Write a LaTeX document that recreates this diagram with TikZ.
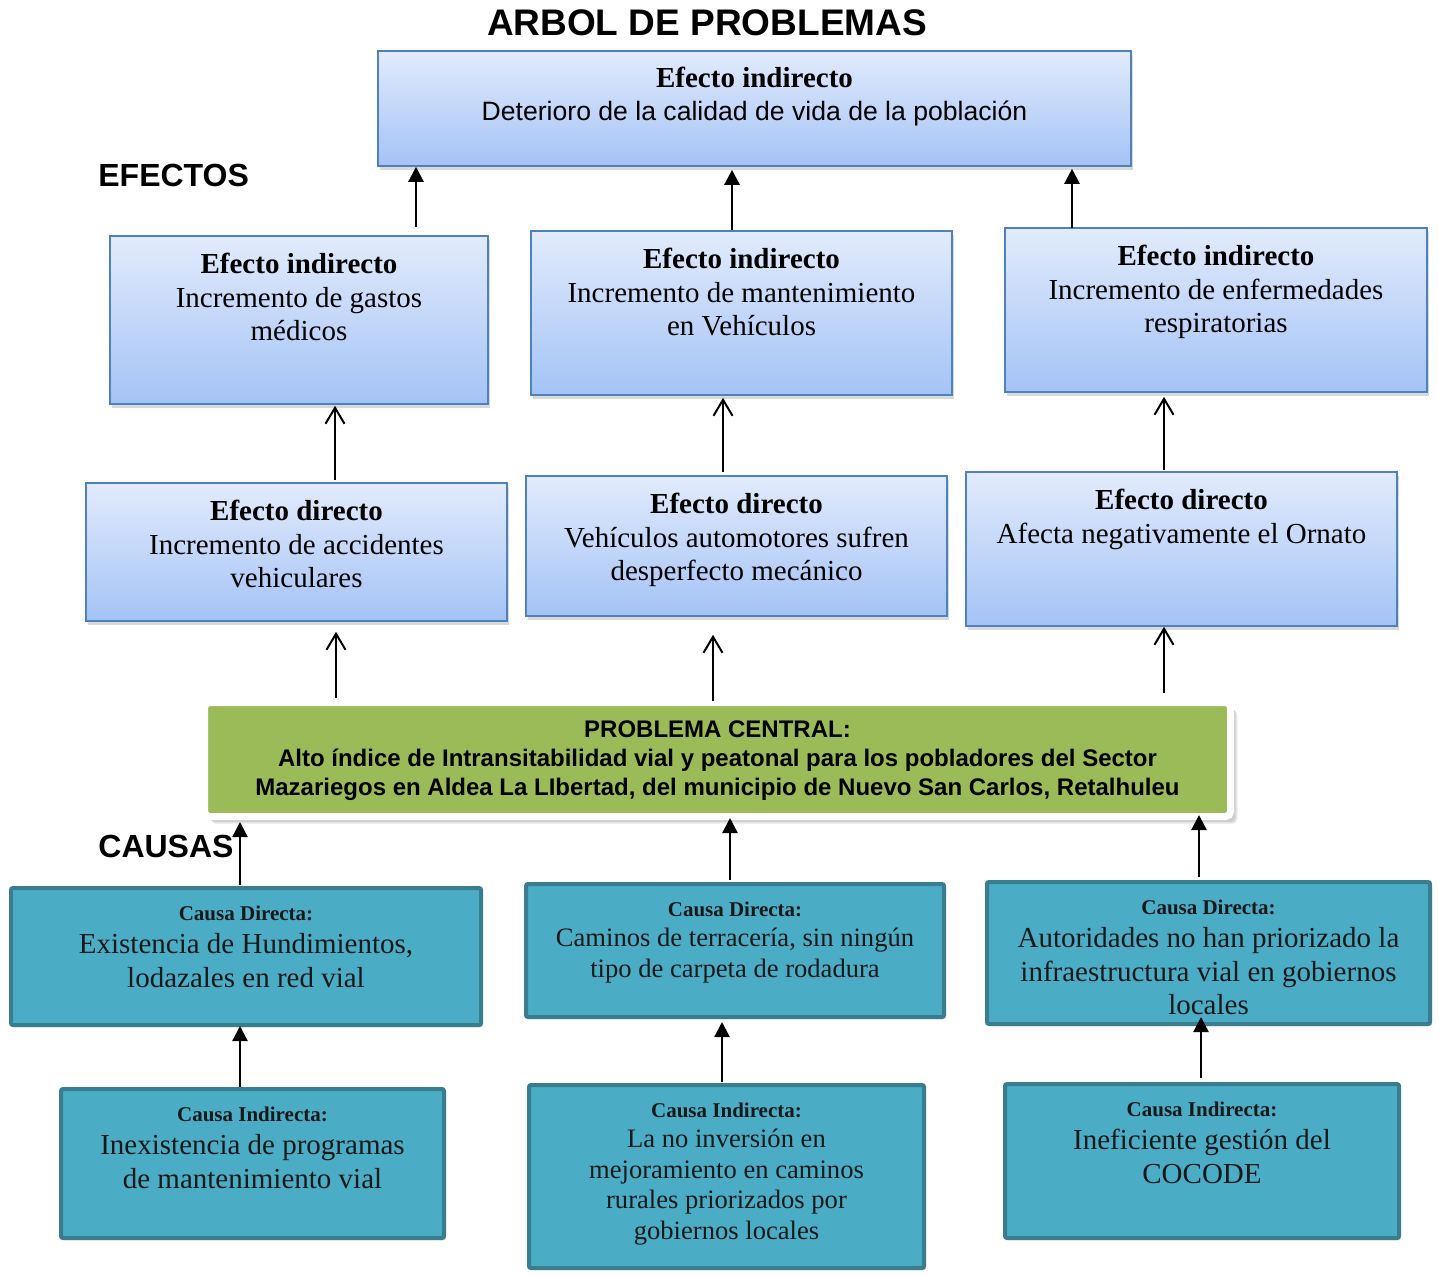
\documentclass[tikz,border=0pt]{standalone}
\usepackage{fontspec}
\setmainfont{Liberation Serif}
\setsansfont{Liberation Sans}
\usepackage{xcolor}
\usepackage{tikz}
\usetikzlibrary{shapes,arrows,positioning,calc,shadows,arrows.meta}

\definecolor{efborde}{RGB}{79,129,189}
\definecolor{eftop}{RGB}{226,235,252}
\definecolor{efbot}{RGB}{164,195,246}
\definecolor{cafill}{RGB}{75,172,198}
\definecolor{caborde}{RGB}{57,125,143}
\definecolor{probverde}{RGB}{155,187,89}

\tikzset{
  efbox/.style={draw=efborde, line width=0.9pt, top color=eftop, bottom color=efbot,
    anchor=north, inner sep=0pt, align=flush center, text height=19pt,
    drop shadow={opacity=0.3, shadow xshift=1.2pt, shadow yshift=-1.8pt},
    font=\fontsize{14.5}{16.75}\selectfont},
  cabox/.style={draw=caborde, line width=2pt, fill=cafill, rounded corners=1pt,
    anchor=north, inner sep=0pt, align=flush center, text height=16pt, text=black!90,
    drop shadow={opacity=0.2, shadow xshift=1pt, shadow yshift=-1.2pt},
    font=\fontsize{14.5}{16.75}\selectfont},
  cachico/.style={font=\fontsize{13.3}{15.3}\selectfont},
  probbox/.style={draw=white, line width=3.5pt, fill=probverde, rounded corners=2.5pt,
    anchor=north, inner sep=0pt, align=flush center,
    general shadow={fill=black!40, opacity=0.25, shadow xshift=3.4pt, shadow yshift=-3.6pt},
    general shadow={fill=black!40, opacity=0.3, shadow xshift=2.6pt, shadow yshift=-2.8pt},
    font=\sffamily\bfseries\fontsize{12}{14.5}\selectfont},
  rotulo/.style={anchor=west, inner sep=0pt, font=\sffamily\bfseries\fontsize{16}{19}\selectfont},
  openarr/.style={-{Straight Barb[length=8pt,width=9.5pt]}, line width=1pt},
  fillarr/.style={-{Triangle[length=7.5pt,width=7.5pt]}, line width=1.2pt},
}
\newcommand{\cabeza}[1]{{\fontsize{10.5}{12}\selectfont\bfseries #1}}

\begin{document}
\begin{tikzpicture}[x=0.5pt, y=-0.5pt]
    \useasboundingbox (0,0) rectangle (1439,1275);

    % Titles
    \node[font=\sffamily\bfseries\fontsize{18.5}{22}\selectfont] (titulo) at (707,23) {ARBOL DE PROBLEMAS};
    \node[rotulo] (efectos) at (98,175) {EFECTOS};
    \node[rotulo] (causas) at (98,846) {CAUSAS};

    % Top effect
    \node[efbox, text width=376.5pt, text height=18.5pt, text depth=39pt,
      font=\fontsize{14.5}{16.25}\selectfont] (top) at (754.5,50)
      {\textbf{Efecto indirecto}\\{\sffamily\fontsize{13.3}{16}\selectfont Deterioro de la calidad de vida de la población}};

    % Indirect effects
    \node[efbox, text width=189pt, text depth=65pt] (ei1) at (299,235)
      {\textbf{Efecto indirecto}\\Incremento de gastos\\médicos};
    \node[efbox, text width=210.5pt, text depth=63pt] (ei2) at (741.5,230)
      {\textbf{Efecto indirecto}\\Incremento de mantenimiento\\en Vehículos};
    \node[efbox, text width=211pt, text depth=63pt] (ei3) at (1216,227)
      {\textbf{Efecto indirecto}\\Incremento de enfermedades\\respiratorias};

    % Direct effects
    \node[efbox, text width=210.5pt, text depth=50pt] (de1) at (296.5,482)
      {\textbf{Efecto directo}\\Incremento de accidentes\\vehiculares};
    \node[efbox, text width=210.5pt, text depth=51pt] (de2) at (736.5,475)
      {\textbf{Efecto directo}\\Vehículos automotores sufren\\desperfecto mecánico};
    \node[efbox, text width=215.5pt, text depth=58pt] (de3) at (1181.5,471)
      {\textbf{Efecto directo}\\Afecta negativamente el Ornato};

    % Central problem
    \node[probbox, text width=513pt, text height=17.25pt, text depth=39.75pt] (cp) at (717.5,699)
      {PROBLEMA CENTRAL:\\Alto índice de Intransitabilidad vial y peatonal para los pobladores del Sector\\Mazariegos en Aldea La LIbertad, del municipio de Nuevo San Carlos, Retalhuleu};

    % Direct causes
    \node[cabox, text width=235pt, text depth=52.5pt] (cd1) at (246,886)
      {\cabeza{Causa Directa:}\\Existencia de Hundimientos,\\lodazales en red vial};
    \node[cabox, cachico, text width=209pt, text depth=50.5pt] (cd2) at (735,882)
      {\cabeza{Causa Directa:}\\Caminos de terracería, sin ningún\\tipo de carpeta de rodadura};
    \node[cabox, text width=221.5pt, text depth=55pt] (cd3) at (1208.5,880)
      {\cabeza{Causa Directa:}\\Autoridades no han priorizado la\\infraestructura vial en gobiernos\\locales};

    % Indirect causes
    \node[cabox, text width=191.5pt, text depth=58.5pt] (ci1) at (252.5,1087)
      {\cabeza{Causa Indirecta:}\\Inexistencia de programas\\de mantenimiento vial};
    \node[cabox, cachico, text width=197.5pt, text depth=75.5pt] (ci2) at (726.5,1083)
      {\cabeza{Causa Indirecta:}\\La no inversión en\\mejoramiento en caminos\\rurales priorizados por\\gobiernos locales};
    \node[cabox, text width=197pt, text depth=61pt] (ci3) at (1202,1082)
      {\cabeza{Causa Indirecta:}\\Ineficiente gestión del\\COCODE};

    % Arrows effects
    \draw[fillarr] ($(ei1.north)+(117,-8)$) -- ($(top.south)+(-338.5,0)$);
    \draw[fillarr] ($(ei2.north)+(-9.5,0)$) -- ($(top.south)+(-22.5,3)$);
    \draw[fillarr] ($(ei3.north)+(-144,1)$) -- ($(top.south)+(317.5,2)$);
    \draw[openarr] ($(de1.north)+(38.5,-2)$) -- ($(ei1.south)+(36,1)$);
    \draw[openarr] ($(de2.north)+(-13.5,-3)$) -- ($(ei2.south)+(-18.5,2)$);
    \draw[openarr] ($(de3.north)+(-17.5,-1)$) -- ($(ei3.south)+(-52,4)$);
    \draw[openarr] ($(cp.north)+(-381.5,-1)$) -- ($(de1.south)+(39.5,10)$);
    \draw[openarr] ($(cp.north)+(-4.5,2)$) -- ($(de2.south)+(-23.5,18)$);
    \draw[openarr] ($(cp.north)+(446.5,-6)$) -- ($(de3.south)+(-17.5,0)$);

    % Arrows causes
    \draw[fillarr] ($(cd1.north)+(-6,-1)$) -- ($(cp.south)+(-477.5,2)$);
    \draw[fillarr] ($(cd2.north)+(-5,-2)$) -- ($(cp.south)+(12.5,-2)$);
    \draw[fillarr] ($(cd3.north)+(-9.5,-3)$) -- ($(cp.south)+(481.5,-5)$);
    \draw[fillarr] ($(ci1.north)+(-12.5,0)$) -- ($(cd1.south)+(-6,-1)$);
    \draw[fillarr] ($(ci2.north)+(-4.5,-1)$) -- ($(cd2.south)+(-13,3)$);
    \draw[fillarr] ($(ci3.north)+(-1,-4)$) -- ($(cd3.south)+(-7.5,-9)$);
\end{tikzpicture}
\end{document}
